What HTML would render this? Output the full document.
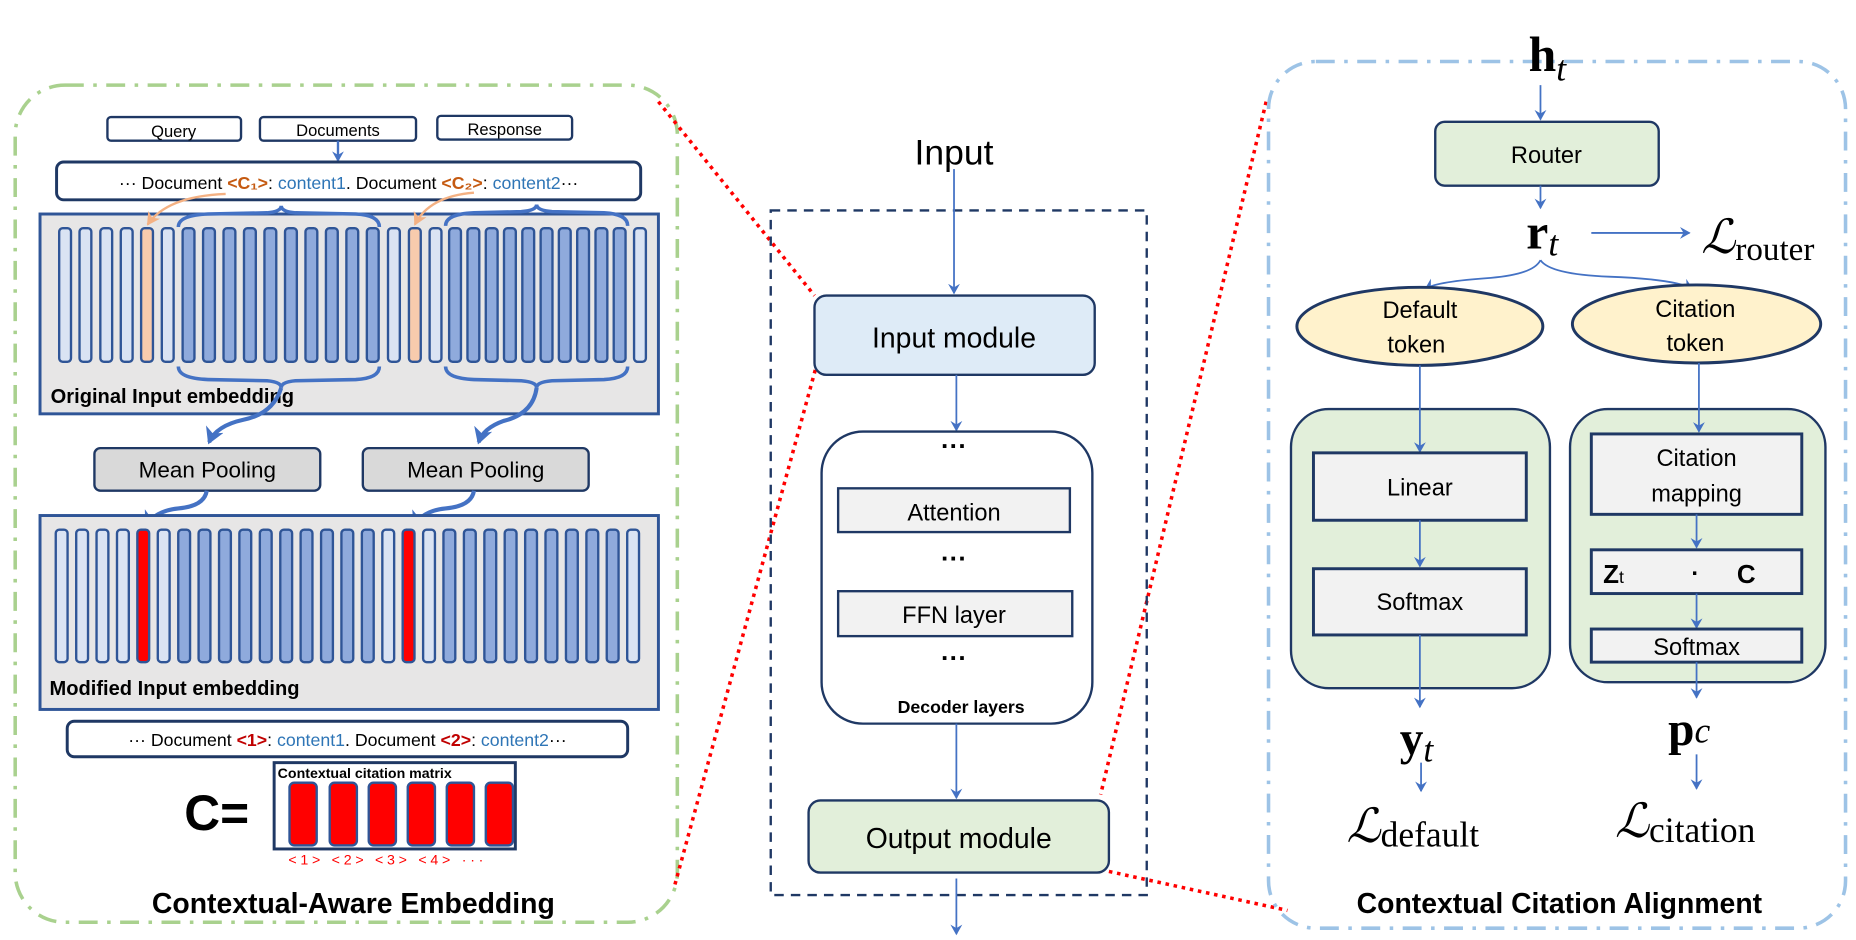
<!DOCTYPE html>
<html><head><meta charset="utf-8"><style>
html,body{margin:0;padding:0;background:#fff;}
svg{display:block;}
text{font-family:"Liberation Sans","DejaVu Sans",sans-serif;}
.serif{font-family:"Liberation Serif","DejaVu Serif",serif;}
</style></head><body>
<svg width="1856" height="940" viewBox="0 0 1568 795" xmlns="http://www.w3.org/2000/svg">
<defs>
<marker id="ar" markerWidth="10" markerHeight="10" refX="8" refY="5" orient="auto" markerUnits="userSpaceOnUse"><path d="M0,0 L9,5 L0,10 L3,5 Z" fill="#4472c4"/></marker>
<marker id="arB" markerWidth="16" markerHeight="16" refX="12" refY="8" orient="auto" markerUnits="userSpaceOnUse"><path d="M0,0 L14,8 L0,16 L4,8 Z" fill="#4472c4"/></marker>
<marker id="arO" markerWidth="12" markerHeight="12" refX="10" refY="6" orient="auto" markerUnits="userSpaceOnUse"><path d="M0,0 L11,6 L0,12 L3,6 Z" fill="#f4b183"/></marker>
</defs>
<rect width="1568" height="795" fill="#fff"/>

<!-- LEFT PANEL -->
<rect x="12" y="72" width="560" height="708" rx="42" fill="none" stroke="#a9d18e" stroke-width="3" stroke-dasharray="16,8,3,8"/>
<rect x="90" y="99" width="113" height="20" rx="3" fill="#fff" stroke="#1f3864" stroke-width="2"/>
<text x="146" y="116" font-size="14" text-anchor="middle">Query</text>
<rect x="219" y="99" width="132" height="20" rx="3" fill="#fff" stroke="#1f3864" stroke-width="2"/>
<text x="285" y="115" font-size="14" text-anchor="middle">Documents</text>
<rect x="369" y="98" width="114" height="20" rx="3" fill="#fff" stroke="#1f3864" stroke-width="2"/>
<text x="426" y="114" font-size="14" text-anchor="middle">Response</text>
<line x1="285" y1="119" x2="285" y2="136" stroke="#4472c4" stroke-width="2" marker-end="url(#ar)"/>
<rect x="47" y="137" width="494" height="32" rx="6" fill="#fff" stroke="#1f3864" stroke-width="2.5"/>
<text x="294" y="160" font-size="15" text-anchor="middle">··· Document <tspan fill="#c55a11" font-weight="bold">&lt;C₁&gt;</tspan>: <tspan fill="#2e75b6">content1</tspan>. Document <tspan fill="#c55a11" font-weight="bold">&lt;C₂&gt;</tspan>: <tspan fill="#2e75b6">content2</tspan>···</text>

<rect x="33" y="181" width="523" height="169" fill="#e7e6e6" stroke="#2f5597" stroke-width="2.5"/>
<g stroke="#2f5597" stroke-width="2">
<rect x="49.2" y="193" width="10" height="113" rx="3" fill="#dae3f3"/>
<rect x="66.4" y="193" width="10" height="113" rx="3" fill="#dae3f3"/>
<rect x="84" y="193" width="10" height="113" rx="3" fill="#dae3f3"/>
<rect x="101.3" y="193" width="10" height="113" rx="3" fill="#dae3f3"/>
<rect x="118.5" y="193" width="10" height="113" rx="3" fill="#f8cbad"/>
<rect x="136" y="193" width="10" height="113" rx="3" fill="#dae3f3"/>
<rect x="153.6" y="193" width="10" height="113" rx="3" fill="#8faadc"/>
<rect x="170.9" y="193" width="10" height="113" rx="3" fill="#8faadc"/>
<rect x="188.2" y="193" width="10" height="113" rx="3" fill="#8faadc"/>
<rect x="205.5" y="193" width="10" height="113" rx="3" fill="#8faadc"/>
<rect x="222.8" y="193" width="10" height="113" rx="3" fill="#8faadc"/>
<rect x="240.2" y="193" width="10" height="113" rx="3" fill="#8faadc"/>
<rect x="257.5" y="193" width="10" height="113" rx="3" fill="#8faadc"/>
<rect x="274.8" y="193" width="10" height="113" rx="3" fill="#8faadc"/>
<rect x="292.1" y="193" width="10" height="113" rx="3" fill="#8faadc"/>
<rect x="309.4" y="193" width="10" height="113" rx="3" fill="#8faadc"/>
<rect x="327.3" y="193" width="10" height="113" rx="3" fill="#dae3f3"/>
<rect x="345" y="193" width="10" height="113" rx="3" fill="#f8cbad"/>
<rect x="362.5" y="193" width="10" height="113" rx="3" fill="#dae3f3"/>
<rect x="379" y="193" width="10" height="113" rx="3" fill="#8faadc"/>
<rect x="394.5" y="193" width="10" height="113" rx="3" fill="#8faadc"/>
<rect x="410" y="193" width="10" height="113" rx="3" fill="#8faadc"/>
<rect x="425.4" y="193" width="10" height="113" rx="3" fill="#8faadc"/>
<rect x="440.9" y="193" width="10" height="113" rx="3" fill="#8faadc"/>
<rect x="456.4" y="193" width="10" height="113" rx="3" fill="#8faadc"/>
<rect x="471.8" y="193" width="10" height="113" rx="3" fill="#8faadc"/>
<rect x="487.3" y="193" width="10" height="113" rx="3" fill="#8faadc"/>
<rect x="502.8" y="193" width="10" height="113" rx="3" fill="#8faadc"/>
<rect x="518.2" y="193" width="10" height="113" rx="3" fill="#8faadc"/>
<rect x="535.4" y="193" width="10" height="113" rx="3" fill="#dae3f3"/>
</g>
<g fill="none" stroke="#4472c4" stroke-width="3">
<path d="M150,192 Q150,182 175,181 L225,180 Q237,179 237,174 Q237,179 249,180 L300,181 Q320,182 320,192"/>
<path d="M376,191 Q376,181 400,180 L440,179 Q453,178 453,173 Q453,178 466,179 L510,180 Q530,181 530,191"/>
<path d="M150,310 Q150,320 175,321 L225,322 Q237,323 237,328 Q237,323 249,322 L300,321 Q320,320 320,310"/>
<path d="M376,310 Q376,320 400,321 L440,322 Q453,323 453,328 Q453,323 466,322 L510,321 Q530,320 530,310"/>
</g>
<text x="42" y="341" font-size="17" font-weight="bold">Original Input embedding</text>
<g fill="none" stroke="#4472c4" stroke-width="3.5">
<path d="M237,328 Q230,350 205,355 Q182,360 176,374" marker-end="url(#arB)"/>
<path d="M453,328 Q450,350 425,356 Q408,362 404,374" marker-end="url(#arB)"/>
</g>
<g fill="none" stroke="#f4b183" stroke-width="2">
<path d="M190,164 Q140,166 124,190" marker-end="url(#arO)"/>
<path d="M400,163 Q362,166 350,190" marker-end="url(#arO)"/>
</g>

<rect x="79" y="379" width="191" height="36" rx="5" fill="#d9d9d9" stroke="#1f3864" stroke-width="2"/>
<text x="174.5" y="404" font-size="19" text-anchor="middle">Mean Pooling</text>
<rect x="306" y="379" width="191" height="36" rx="5" fill="#d9d9d9" stroke="#1f3864" stroke-width="2"/>
<text x="401.5" y="404" font-size="19" text-anchor="middle">Mean Pooling</text>
<g fill="none" stroke="#4472c4" stroke-width="3.5">
<path d="M174,415 Q172,428 150,430 Q130,432 123,445" marker-end="url(#arB)"/>
<path d="M400,415 Q398,428 376,430 Q356,432 350,445" marker-end="url(#arB)"/>
</g>

<rect x="33" y="436" width="523" height="164" fill="#e7e6e6" stroke="#2f5597" stroke-width="2.5"/>
<g stroke="#2f5597" stroke-width="2">
<rect x="46.3" y="448" width="10" height="112" rx="3" fill="#dae3f3"/>
<rect x="63.6" y="448" width="10" height="112" rx="3" fill="#dae3f3"/>
<rect x="80.8" y="448" width="10" height="112" rx="3" fill="#dae3f3"/>
<rect x="98.1" y="448" width="10" height="112" rx="3" fill="#dae3f3"/>
<rect x="115.3" y="448" width="10" height="112" rx="3" fill="#ff0000"/>
<rect x="132.6" y="448" width="10" height="112" rx="3" fill="#dae3f3"/>
<rect x="149.9" y="448" width="10" height="112" rx="3" fill="#8faadc"/>
<rect x="167.1" y="448" width="10" height="112" rx="3" fill="#8faadc"/>
<rect x="184.4" y="448" width="10" height="112" rx="3" fill="#8faadc"/>
<rect x="201.6" y="448" width="10" height="112" rx="3" fill="#8faadc"/>
<rect x="218.9" y="448" width="10" height="112" rx="3" fill="#8faadc"/>
<rect x="236.2" y="448" width="10" height="112" rx="3" fill="#8faadc"/>
<rect x="253.4" y="448" width="10" height="112" rx="3" fill="#8faadc"/>
<rect x="270.7" y="448" width="10" height="112" rx="3" fill="#8faadc"/>
<rect x="287.9" y="448" width="10" height="112" rx="3" fill="#8faadc"/>
<rect x="305.2" y="448" width="10" height="112" rx="3" fill="#8faadc"/>
<rect x="322.5" y="448" width="10" height="112" rx="3" fill="#dae3f3"/>
<rect x="339.7" y="448" width="10" height="112" rx="3" fill="#ff0000"/>
<rect x="357" y="448" width="10" height="112" rx="3" fill="#dae3f3"/>
<rect x="374.2" y="448" width="10" height="112" rx="3" fill="#8faadc"/>
<rect x="391.5" y="448" width="10" height="112" rx="3" fill="#8faadc"/>
<rect x="408.8" y="448" width="10" height="112" rx="3" fill="#8faadc"/>
<rect x="426" y="448" width="10" height="112" rx="3" fill="#8faadc"/>
<rect x="443.3" y="448" width="10" height="112" rx="3" fill="#8faadc"/>
<rect x="460.5" y="448" width="10" height="112" rx="3" fill="#8faadc"/>
<rect x="477.8" y="448" width="10" height="112" rx="3" fill="#8faadc"/>
<rect x="495.1" y="448" width="10" height="112" rx="3" fill="#8faadc"/>
<rect x="512.3" y="448" width="10" height="112" rx="3" fill="#8faadc"/>
<rect x="529.6" y="448" width="10" height="112" rx="3" fill="#dae3f3"/>
</g>
<text x="41" y="588" font-size="17" font-weight="bold">Modified Input embedding</text>

<rect x="56" y="610" width="474" height="30" rx="6" fill="#fff" stroke="#1f3864" stroke-width="2.5"/>
<text x="293" y="631" font-size="15" text-anchor="middle">··· Document <tspan fill="#c00000" font-weight="bold">&lt;1&gt;</tspan>: <tspan fill="#2e75b6">content1</tspan>. Document <tspan fill="#c00000" font-weight="bold">&lt;2&gt;</tspan>: <tspan fill="#2e75b6">content2</tspan>···</text>

<text x="155" y="702" font-size="42" font-weight="bold">C=</text>
<rect x="231" y="645" width="204" height="73" fill="#fff" stroke="#1f3864" stroke-width="2.5"/>
<text x="234" y="658" font-size="12" font-weight="bold">Contextual citation matrix</text>
<g fill="#ff0000" stroke="#2f5597" stroke-width="2">
<rect x="244" y="662" width="23" height="53" rx="4"/>
<rect x="278" y="662" width="23" height="53" rx="4"/>
<rect x="311" y="662" width="23" height="53" rx="4"/>
<rect x="344" y="662" width="23" height="53" rx="4"/>
<rect x="377" y="662" width="23" height="53" rx="4"/>
<rect x="410" y="662" width="23" height="53" rx="4"/>
</g>
<text x="243" y="731" font-size="12" fill="#ff0000" textLength="165">&lt;1&gt; &lt;2&gt;  &lt;3&gt; &lt;4&gt; ···</text>
<text x="298" y="772" font-size="24" font-weight="bold" text-anchor="middle">Contextual-Aware Embedding</text>

<!-- red dotted -->
<g stroke="#ff0000" stroke-width="3" stroke-dasharray="3,4" fill="none">
<line x1="556" y1="86" x2="688" y2="250"/>
<line x1="570" y1="748" x2="690" y2="308"/>
<line x1="1070" y1="86" x2="930" y2="672"/>
<line x1="937" y1="737" x2="1088" y2="770"/>
</g>

<!-- MIDDLE -->
<text x="806" y="139" font-size="30" text-anchor="middle">Input</text>
<rect x="651" y="178" width="318" height="579" fill="none" stroke="#1f3864" stroke-width="2" stroke-dasharray="8,6"/>
<line x1="806" y1="143" x2="806" y2="248" stroke="#4472c4" stroke-width="1.5" marker-end="url(#ar)"/>
<rect x="688" y="250" width="237" height="67" rx="10" fill="#deebf7" stroke="#1f3864" stroke-width="2"/>
<text x="806" y="294" font-size="24" text-anchor="middle">Input module</text>
<line x1="808" y1="317" x2="808" y2="364" stroke="#4472c4" stroke-width="1.5" marker-end="url(#ar)"/>
<rect x="694" y="365" width="229" height="247" rx="35" fill="#fff" stroke="#1f3864" stroke-width="2"/>
<text x="806" y="385" font-size="22" font-weight="bold" text-anchor="middle">···</text>
<rect x="708" y="413" width="196" height="37" fill="#f2f2f2" stroke="#1f3864" stroke-width="2"/>
<text x="806" y="440" font-size="20" text-anchor="middle">Attention</text>
<text x="806" y="480" font-size="22" font-weight="bold" text-anchor="middle">···</text>
<rect x="708" y="500" width="198" height="38" fill="#f2f2f2" stroke="#1f3864" stroke-width="2"/>
<text x="806" y="527" font-size="20" text-anchor="middle">FFN layer</text>
<text x="806" y="564" font-size="22" font-weight="bold" text-anchor="middle">···</text>
<text x="812" y="603" font-size="15" font-weight="bold" text-anchor="middle">Decoder layers</text>
<line x1="808" y1="612" x2="808" y2="675" stroke="#4472c4" stroke-width="1.5" marker-end="url(#ar)"/>
<rect x="683" y="677" width="254" height="61" rx="10" fill="#e2efda" stroke="#1f3864" stroke-width="2"/>
<text x="810" y="717" font-size="24" text-anchor="middle">Output module</text>
<line x1="808" y1="743" x2="808" y2="790" stroke="#4472c4" stroke-width="1.5" marker-end="url(#ar)"/>

<!-- RIGHT PANEL -->
<rect x="1072" y="52" width="488" height="733" rx="40" fill="none" stroke="#9dc3e6" stroke-width="3" stroke-dasharray="16,8,3,8"/>
<text x="1292" y="60" font-size="42" font-weight="bold" class="serif">h<tspan font-weight="normal" font-style="italic" font-size="30" dy="8">t</tspan></text>
<line x1="1302" y1="72" x2="1302" y2="101" stroke="#4472c4" stroke-width="1.5" marker-end="url(#ar)"/>
<rect x="1213" y="103" width="189" height="54" rx="8" fill="#e2efda" stroke="#1f3864" stroke-width="2"/>
<text x="1307" y="138" font-size="20" text-anchor="middle">Router</text>
<line x1="1302" y1="157" x2="1302" y2="176" stroke="#4472c4" stroke-width="1.5" marker-end="url(#ar)"/>
<text x="1290" y="210" font-size="42" font-weight="bold" class="serif">r<tspan font-weight="normal" font-style="italic" font-size="30" dy="6">t</tspan></text>
<line x1="1345" y1="197" x2="1428" y2="197" stroke="#4472c4" stroke-width="1.5" marker-end="url(#ar)"/>
<text x="1438" y="214" font-size="40" font-style="italic" class="serif">ℒ<tspan font-style="normal" font-size="28" dy="6">router</tspan></text>
<g fill="none" stroke="#4472c4" stroke-width="1.5">
<path d="M1302,220 Q1296,232 1260,235 Q1215,238 1205,244" marker-end="url(#ar)"/>
<path d="M1302,220 Q1310,232 1360,234 Q1415,236 1430,244" marker-end="url(#ar)"/>
</g>
<ellipse cx="1200" cy="276" rx="104" ry="33" fill="#fff2cc" stroke="#1f3864" stroke-width="2.5"/>
<text x="1200" y="269" font-size="20" text-anchor="middle">Default</text>
<text x="1197" y="298" font-size="20" text-anchor="middle">token</text>
<ellipse cx="1434" cy="274" rx="105" ry="33" fill="#fff2cc" stroke="#1f3864" stroke-width="2.5"/>
<text x="1433" y="268" font-size="20" text-anchor="middle">Citation</text>
<text x="1433" y="297" font-size="20" text-anchor="middle">token</text>

<rect x="1091" y="346" width="219" height="236" rx="32" fill="#e2efda" stroke="#1f3864" stroke-width="2"/>
<rect x="1327" y="346" width="216" height="231" rx="32" fill="#e2efda" stroke="#1f3864" stroke-width="2"/>
<line x1="1200" y1="309" x2="1200" y2="382" stroke="#4472c4" stroke-width="1.5" marker-end="url(#ar)"/>
<line x1="1436" y1="307" x2="1436" y2="365" stroke="#4472c4" stroke-width="1.5" marker-end="url(#ar)"/>
<rect x="1110" y="383" width="180" height="57" fill="#f2f2f2" stroke="#1f3864" stroke-width="2.5"/>
<text x="1200" y="419" font-size="20" text-anchor="middle">Linear</text>
<line x1="1200" y1="440" x2="1200" y2="479" stroke="#4472c4" stroke-width="1.5" marker-end="url(#ar)"/>
<rect x="1110" y="481" width="180" height="56" fill="#f2f2f2" stroke="#1f3864" stroke-width="2.5"/>
<text x="1200" y="516" font-size="20" text-anchor="middle">Softmax</text>
<line x1="1200" y1="537" x2="1200" y2="598" stroke="#4472c4" stroke-width="1.5" marker-end="url(#ar)"/>

<rect x="1345" y="367" width="178" height="68" fill="#f2f2f2" stroke="#1f3864" stroke-width="2.5"/>
<text x="1434" y="394" font-size="20" text-anchor="middle">Citation</text>
<text x="1434" y="424" font-size="20" text-anchor="middle">mapping</text>
<line x1="1434" y1="435" x2="1434" y2="463" stroke="#4472c4" stroke-width="1.5" marker-end="url(#ar)"/>
<rect x="1345" y="465" width="178" height="37" fill="#f2f2f2" stroke="#1f3864" stroke-width="2.5"/>
<text x="1355" y="493" font-size="22" font-weight="bold">Z<tspan font-size="15" font-weight="normal">t</tspan></text>
<text x="1433" y="492" font-size="20" font-weight="bold" text-anchor="middle">·</text>
<text x="1476" y="493" font-size="22" font-weight="bold" text-anchor="middle">C</text>
<line x1="1434" y1="502" x2="1434" y2="531" stroke="#4472c4" stroke-width="1.5" marker-end="url(#ar)"/>
<rect x="1345" y="532" width="178" height="28" fill="#f2f2f2" stroke="#1f3864" stroke-width="2.5"/>
<text x="1434" y="554" font-size="20" text-anchor="middle">Softmax</text>
<line x1="1434" y1="560" x2="1434" y2="590" stroke="#4472c4" stroke-width="1.5" marker-end="url(#ar)"/>

<text x="1183" y="638" font-size="40" font-weight="bold" class="serif">y<tspan font-weight="normal" font-style="italic" font-size="30" dy="6">t</tspan></text>
<line x1="1201" y1="645" x2="1201" y2="669" stroke="#4472c4" stroke-width="1.5" marker-end="url(#ar)"/>
<text x="1138" y="712" font-size="40" font-style="italic" class="serif">ℒ<tspan font-style="normal" font-size="30" dy="4">default</tspan></text>
<text x="1410" y="630" font-size="40" font-weight="bold" class="serif">p<tspan font-weight="normal" font-style="italic" font-size="30" dy="-2">c</tspan></text>
<line x1="1434" y1="638" x2="1434" y2="667" stroke="#4472c4" stroke-width="1.5" marker-end="url(#ar)"/>
<text x="1365" y="708" font-size="40" font-style="italic" class="serif">ℒ<tspan font-style="normal" font-size="30" dy="4">citation</tspan></text>
<text x="1318" y="772" font-size="24" font-weight="bold" text-anchor="middle">Contextual Citation Alignment</text>
</svg>
</body></html>
